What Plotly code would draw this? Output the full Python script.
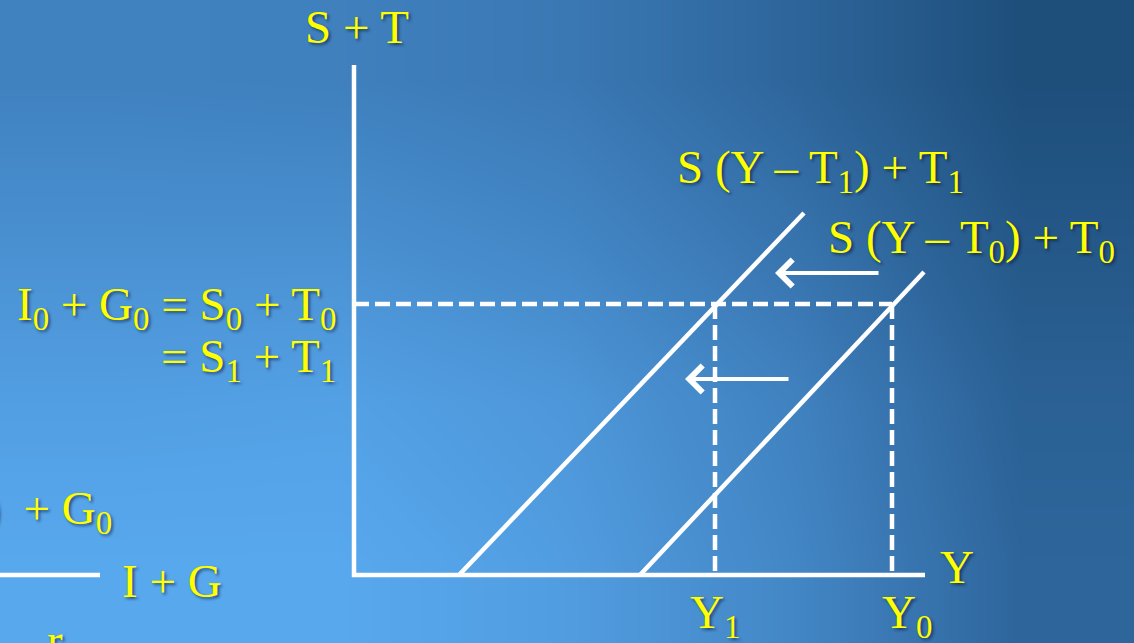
import plotly.graph_objects as go

# ---------------- data (chart units: 1 unit of Y and of S+T) ----------------
# axes of the S+T panel
axis_y_top = 10.2
axis_x_end = 11.42
# saving + tax schedules: (Y at S+T = 0) -> (Y, S+T) at upper end
s1_x = [2.10, 9.00]
s1_y = [0.00, 7.24]
s0_x = [5.72, 11.40]
s0_y = [0.00, 6.06]
# equilibrium level and incomes
eq_level = 5.42
Y1 = 7.22
Y0 = 10.76
# shift arrows (tail x, head x, height)
arrow_upper = (10.52, 8.42, 6.04)
arrow_lower = (8.72, 6.62, 3.92)
# left panel fragment (I + G line)
ig_x = [-7.08, -5.08]
ig_y = [0.0, 0.0]

# background brightness samples (rows top->bottom, columns left->right)
bg_z = [
    [0.60, 0.58, 0.50, 0.30, 0.05],
    [0.75, 0.75, 0.65, 0.45, 0.15],
    [0.90, 0.92, 0.82, 0.60, 0.25],
    [1.00, 1.00, 0.88, 0.65, 0.30],
]
bg_colors = [[0.0, "#1b4a75"], [0.5, "#3a78b4"], [1.0, "#58a8ee"]]

X_RANGE = [-7.08, 15.6]
Y_RANGE = [-1.36, 11.5]

WHITE = "#ffffff"
YELLOW = "#ffff00"
FONT = "Liberation Serif"
FS = 47
SHADOW = "2px 2px 3px rgba(0,10,40,0.55)"

fig = go.Figure()

# background gradient on base axes
fig.add_trace(go.Heatmap(z=bg_z, colorscale=bg_colors, zmin=0, zmax=1, zsmooth="best",
                         showscale=False, hoverinfo="skip", xaxis="x", yaxis="y"))

def line(xs, ys, dash=None, width=4.5):
    fig.add_trace(go.Scatter(x=xs, y=ys, mode="lines", xaxis="x2", yaxis="y2",
                             line=dict(color=WHITE, width=width, dash=dash),
                             hoverinfo="skip", showlegend=False))

# axes
line([0, 0, axis_x_end], [axis_y_top, 0, 0])
# left panel fragment
line(ig_x, ig_y)
# schedules
line(s1_x, s1_y)
line(s0_x, s0_y)
# dashed guides
DASH = "15px,6px"
line([0, Y0], [eq_level, eq_level], dash=DASH, width=4.5)
line([Y1, Y1], [eq_level, 0], dash=DASH, width=4.5)
line([Y0, Y0], [eq_level, 0], dash=DASH, width=4.5)

ann = []
for tail, head, h in (arrow_upper, arrow_lower):
    ann.append(dict(x=head, y=h, ax=tail, ay=h, xref="x2", yref="y2", axref="x2", ayref="y2",
                    text="", showarrow=True, arrowhead=4, arrowsize=1.3, arrowwidth=4,
                    arrowcolor=WHITE, standoff=0))

def label(text, x, y, xanchor="left", yanchor="middle"):
    ann.append(dict(x=x, y=y, xref="x2", yref="y2", text=text, showarrow=False,
                    xanchor=xanchor, yanchor=yanchor,
                    font=dict(family=FONT, size=FS, color=YELLOW, shadow=SHADOW)))

label("S + T", 0.06, 10.96, xanchor="center")
label("S (Y – T<sub>1</sub>) + T<sub>1</sub>", 6.42, 8.10)
label("S (Y – T<sub>0</sub>) + T<sub>0</sub>", 9.44, 6.70)
label("I<sub>0</sub> + G<sub>0</sub> = S<sub>0</sub> + T<sub>0</sub>", -0.32, 5.36, xanchor="right")
label("= S<sub>1</sub> + T<sub>1</sub>", -0.32, 4.32, xanchor="right")
label("Y", 11.68, 0.16)
label("Y<sub>1</sub>", 6.68, -0.80)
label("Y<sub>0</sub>", 10.52, -0.80)
label("I(r<sub>0</sub>)  + G<sub>0</sub>", -4.80, 1.28, xanchor="right")
label("I + G", -4.68, -0.12)
label("r", -6.18, -1.30)

fig.update_layout(
    width=1134, height=643,
    margin=dict(l=0, r=0, t=0, b=0),
    paper_bgcolor="#4a8fd4", plot_bgcolor="rgba(0,0,0,0)",
    showlegend=False,
    annotations=ann,
    xaxis=dict(range=[-0.5, 4.5], visible=False, domain=[0, 1]),
    yaxis=dict(range=[3.5, -0.5], visible=False, domain=[0, 1]),
    xaxis2=dict(range=X_RANGE, visible=False, overlaying="x", domain=[0, 1]),
    yaxis2=dict(range=Y_RANGE, visible=False, overlaying="y", domain=[0, 1]),
)

fig.write_html("out.html", config={"displayModeBar": False},
               post_script="document.body.style.margin='0px';document.body.style.overflow='hidden';")
